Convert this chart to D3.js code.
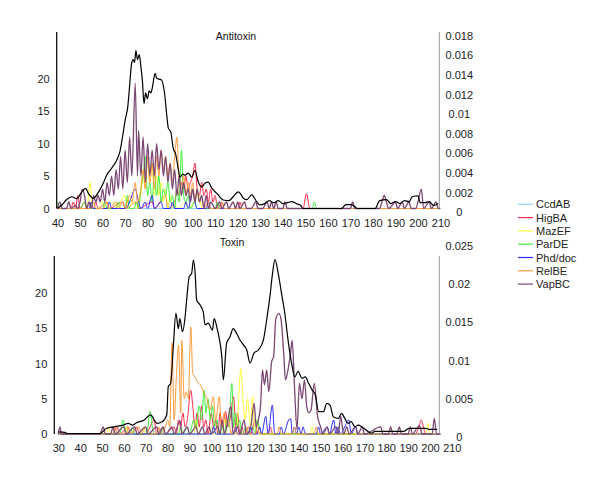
<!DOCTYPE html>
<html><head><meta charset="utf-8">
<script src="https://cdn.jsdelivr.net/npm/d3@7"></script>
<style>body{margin:0;background:#fff}svg{display:block}text{font-family:"Liberation Sans",Arial,sans-serif;}</style>
</head><body>
<svg id="c" width="600" height="483"></svg>
<script>
// ---- DATA ----
const families = ["CcdAB","HigBA","MazEF","ParDE","Phd/doc","RelBE","VapBC"];
const familyColors = ["#8fd3f4","#ff2a4a","#ffff3a","#3ef03e","#2a2aff","#ff9a3a","#7b4874"];

// Antitoxin panel: [length, count]
const antiCcdAB = [[40,0],[88,0],[89,1],[90,0],[210,0]];
const antiHigBA = [[40,0],[46,0],[47,1],[48,0],[49,2],[50,0],[52,1],[53,0],[56,0],[57,1],[58,0],[62,1],[63,0],[69,1],[70,0],[75,1],[76,0],[82,1],[83,0],[88,2],[89,0],[92,1],[93,3],[94,2],[95,4],[96,3],[97,5],[98,3],[99,4],[100,5],[101,7],[102,3],[103,2],[104,4],[105,2],[106,3],[107,1],[108,3],[109,1],[110,2],[111,0],[113,1],[114,0],[120,0],[121,1],[122,0],[149,0],[150.5,2.3],[152,0],[210,0]];
const antiMazEF = [[40,0],[53,0],[54.5,4],[55.5,0],[58,0],[60,1],[61,0],[65,1],[66,0],[70,2],[71,0],[74,1],[75,0],[77,2],[78,5],[79,3],[80,8],[81,4],[82,7],[83,2],[84,5],[85,2],[86,4],[87,1],[88,3],[89,0],[90,2],[91,0],[92,1],[93,0],[97,1],[98,0],[103,2],[104,0],[210,0]];
const antiParDE = [[40,1],[41,0],[50,0],[52,1],[53,0],[60,0],[61,1],[62,0],[66,0],[67,1],[68,0],[70,0],[71,2],[72,0],[74,0],[75,1],[76,0],[77,3],[78,5],[79,8],[80,2],[81,4],[82,1],[83,6],[84,2],[85,5],[86,1],[87,3],[88,2],[89,4],[90,1],[91,2],[92,0],[93,3],[94,1],[95,9],[96,2],[97,1],[98,2],[99,0],[101,1],[102,0],[110,0],[111,1],[112,0],[153,0],[154,1],[155,0],[210,0]];
const antiPhd = [[40,0],[54,0],[55,1],[56,0],[62,0],[63,1],[64,0],[70,0],[72,1],[73,2],[74.5,3],[76,1],[77,0],[79,1],[80,0],[82,2],[83,0],[86,1],[87,0],[90,0],[91,1],[92,0],[96,0],[97,1],[98,0],[100,3],[101,1],[102,0],[106,0],[107,1],[108,0],[210,0]];
const antiRelBE = [[40,0],[55,0],[56,1],[57,0],[60,0],[62,1],[63,0],[66,1],[67,0],[69,1],[70,0],[72,2],[73,1],[74.5,4],[75.5,1],[77,3],[78,6],[79,3],[80,8],[81,4],[82,7],[83,3],[84,8],[85,5],[86,9],[87,6],[88,8],[89,5],[90,7],[91,4],[92,8],[93,11],[94,4],[95,3],[96,5],[97,2],[98,4],[99,2],[100,4],[101,1],[102,3],[103,1],[104,2],[105,0],[107,1],[108,0],[112,0],[113,1],[114,0],[210,0]];
const antiVapBC = [[40,0],[41,1],[42,0],[44,0],[45,1],[46,0],[48,0.5],[49,0],[50,1],[51,3],[52,2],[53,0],[54,1],[55,0],[56,2],[57,1],[58,2],[59,1],[60,3],[61,1],[62,4],[63,2],[64,5],[65,2],[66,6],[67,3],[68,8],[69,3],[70,9],[71,4],[72,11],[73,5],[74.5,19.3],[75.5,5],[76,12],[77,5],[78,11],[79,4],[80,10],[81,5],[82,9],[83,5],[84,10],[85,6],[86,9],[87,5],[88,8],[89,4],[90,7],[91,3],[92,6],[93,2],[94,5],[95,2],[96,4],[97,2],[98,3],[99,1],[100,3],[101,1],[102,3],[103,1],[104,2],[105,0],[106,2],[107,0],[108,1],[110,0],[112,1],[113,0],[115,1],[116,0],[118,1],[119,0],[120,1],[121,0],[123,1],[124,0],[126,0],[128,1],[129,0],[131,0],[133,1],[134,0],[135,1],[136,0],[137,1],[138,0],[140,0],[141,1],[142,0],[170,0],[171,1],[172,0],[183,0],[184,1],[185,2],[186,1],[187,0],[190,1],[191,0],[193,1],[194,0],[196,1],[197,0],[199,0],[200,1],[201.5,3],[202.5,0],[205,1],[206,0],[208,1],[209,0],[210,0]];
const antiDensity = [[40,0],[41.9,0.00036],[44,0.0009],[46.3,0.0012],[48.5,0.001],[50.5,0.0016],[52.5,0.00206],[53.7,0.00155],[55.9,0.00104],[58,0.0016],[60.3,0.00257],[61.8,0.0034],[64,0.0041],[65.5,0.0046],[67,0.0053],[67.7,0.0058],[69,0.0075],[70,0.009],[71.2,0.0104],[72,0.0125],[72.9,0.0148],[73.6,0.0152],[74.2,0.0149],[74.8,0.0161],[75.5,0.0152],[76.3,0.0157],[77,0.0145],[77.7,0.013],[78.4,0.0107],[79.1,0.0118],[79.9,0.0112],[80.7,0.012],[81.5,0.0118],[82.3,0.0126],[83.3,0.0138],[84,0.0133],[85,0.0132],[86.2,0.0131],[87,0.0125],[87.7,0.0114],[88.5,0.0095],[89.2,0.0082],[90.3,0.0078],[91.4,0.0061],[92.4,0.0056],[93.4,0.0043],[94.4,0.0032],[95.5,0.0035],[96.6,0.0034],[98,0.0036],[99.6,0.0032],[101,0.0039],[102.5,0.0027],[104,0.0022],[105.5,0.0026],[106.9,0.0027],[108.4,0.0021],[110.7,0.00155],[113.6,0.00087],[116,0.0008],[118,0.0012],[120.2,0.0017],[121.3,0.0015],[122.5,0.00104],[124,0.0009],[126.2,0.0014],[128.4,0.0007],[129.9,0.00036],[132,0.0005],[134,0.0008],[136,0.0006],[138,0.0008],[140,0.0005],[142,0.0006],[144,0.0007],[146,0.0005],[148,0.0003],[149,0],[166,0],[168,0.0004],[170,0.0004],[172,0.0002],[173,0],[181,0],[183,0.0008],[186,0.0009],[188,0.0005],[190,0.0007],[192,0.0005],[194,0.0008],[196,0.0007],[197.5,0.0012],[200,0.0013],[201,0.0006],[203,0.0006],[205,0.0007],[207,0.0003],[209,0.0005]];

// Toxin panel
const toxCcdAB = [[30,0],[100,0],[101,1],[102,0],[210,0]];
const toxHigBA = [[30,0],[55,0],[57,1],[58,0],[62,1],[63,0],[66,1],[67,0],[70,0],[72,1],[73.8,2],[75,0],[78,1],[79,0],[83,1],[84,0],[85,2],[86,1],[87,3],[88,1],[89,2],[90.6,6.2],[91.5,4],[92.5,1],[93.5,3],[94.5,1],[95.5,4],[96.5,1],[97.5,2],[98.5,0],[100,3],[101,1],[102,2],[103,0],[104,3],[105,1],[106.6,3.2],[107.5,1],[108.5,2],[110.2,5.3],[111.2,1],[112,3],[113,0],[114,1],[115,0],[117,1],[118,0],[120,2],[121,0],[122,1],[123,0],[126,0],[127,1],[128,0],[193,0],[195,1],[196,2],[197,1],[198,0],[210,0]];
const toxMazEF = [[30,0],[52,0],[53,1],[54,0],[60,0],[61,1],[62,0],[68,0],[69,1],[70,0],[85,0],[86,1],[87,0],[92,0],[93,2],[94,0],[99,0],[100,1],[101,0],[105,0],[106,2],[107,0],[111,0],[112,2],[113.5,9.3],[114.5,5],[115.5,2],[116.5,5],[118,1],[118.8,5.3],[119.8,1],[121,2],[122,0],[145,0],[146,1],[147,0],[198,0],[199,1.5],[200,0],[210,0]];
const toxParDE = [[30,0],[58,0],[59.7,2],[61,0],[63,0],[64,1],[65,0],[70,0],[71,1],[72,3.2],[73,1],[74,0],[77,0],[78,1],[79,0],[85,0],[86,1],[87,0],[89,1],[90,0],[92,2],[93,1],[94.5,4],[95.5,2],[96.7,6.2],[97.5,3],[98.5,5],[99.5,2],[100.5,4],[101.5,1],[102.5,2],[103.5,0],[105,1],[106,0],[107,2],[108,1],[109.4,7.2],[110.2,1],[111,3],[112,1],[113,2],[114,0],[116,1],[117,0],[119,1],[120,0],[121,2],[122,1],[123,0],[210,0]];
const toxPhd = [[30,0],[100,0],[101,1],[102,0],[110,0],[111,1],[112,0],[117,0],[118,1],[119,0],[121,0],[122,1],[123,0],[124.9,2.5],[126,0],[127.9,4.1],[129,0],[131,0],[132,1],[133,0],[135.4,2],[136.3,2.2],[137,0],[138,1],[139,0],[140,1],[141,0],[142,1],[143,0],[148,0],[149,1],[150,0],[153,1],[154,0],[156,2],[157,0],[158,1],[159,0],[161,1],[162.9,2],[164,0],[166,1],[167,0],[210,0]];
const toxRelBE = [[30,0],[55,0],[56,1],[57,0],[61,0],[62,1],[63,0],[67,1],[68,0],[70,1],[71,0],[75,0],[76,1],[77,0],[79,1],[80,2],[81,1],[82,13],[83,2],[84,8],[85,12.6],[86,3],[86.5,13.3],[87.6,5],[88.5,6],[89.5,5],[90.6,15.2],[91.5,8.6],[92.6,8.1],[94,7.3],[95,7],[96.7,5.8],[98,5],[99.4,3.4],[100.9,5.3],[102,2],[103.7,5.3],[104.5,1],[106,3],[107,1],[108,2],[109,0],[110,1],[112,0],[115,0],[116,1],[117,0],[120,0],[121,1],[122,0],[130,0],[131,1],[132,0],[137,0],[138,1],[139,0],[147,0],[148,1],[149,0],[210,0]];
const toxVapBC = [[30,0],[30.7,1],[31.5,0],[49,0],[50.6,1],[51.5,0],[54,0],[55,1],[56,0],[60,1],[61,0],[65,1],[66,0],[70,1],[71,0],[75,1],[76,0],[78,1],[79,0],[82,1],[83,0],[85.7,1.9],[86.5,0],[89,1],[90,0],[93,1],[94,0],[96,1],[97,0],[99,1],[100,0],[103,1],[104,0],[105,2],[106,0],[107,1],[108.9,3.9],[110,0],[112,1],[113,0],[115,2],[116,0],[118,1],[119.6,4.4],[120.5,1],[121.5,2],[122.5,4],[123.4,9.1],[124.3,7],[125.3,9.1],[126.3,6],[127.6,10.3],[128.5,11],[129.5,16.4],[131,17.1],[132,16],[133.2,11],[133.9,7.7],[135,9],[136.2,11.4],[137,13.3],[138,7],[139.2,0.6],[140.3,7.2],[141.5,5],[142.6,7.7],[143.6,4],[144.6,3],[145.6,3.4],[147.1,7.2],[148.6,2.5],[150,1],[151,0],[153,1],[154,0],[157,1],[158,0],[159.2,2.5],[160.5,0],[162,1],[163,0],[166,1],[167,0],[169,1],[170,0],[177.5,1],[178.5,0],[181,0],[182,1],[183,0],[185,0],[186,1],[187,0],[190,0],[191,1],[192,0],[195.2,1.2],[196.5,0],[201,0],[202,2.2],[203,0],[210,0]];
const toxDensity = [[30,0.0002],[33,0.00015],[34,0],[49,0],[52.1,0.00068],[55.9,0.00089],[59.7,0.0011],[62,0.00133],[64,0.0011],[65.8,0.00141],[69.3,0.00176],[70.8,0.00219],[72.3,0.00242],[73.9,0.00176],[75.1,0.00133],[77.5,0.00154],[79.6,0.00242],[80.3,0.0061],[81.4,0.00655],[82.6,0.0113],[83.8,0.0157],[84.9,0.0137],[85.6,0.015],[86.8,0.0133],[88,0.0152],[88.7,0.0174],[89.9,0.0205],[91,0.0209],[91.8,0.02265],[92.6,0.0209],[93.3,0.0174],[94.8,0.0168],[96.3,0.0159],[97.1,0.0142],[98.6,0.0144],[100.5,0.0135],[101.3,0.015],[102.5,0.0139],[103.5,0.0126],[104.8,0.01],[105.5,0.007],[107,0.0118],[108.5,0.0126],[110,0.0137],[111.5,0.0131],[113.1,0.0122],[114.6,0.0116],[116.2,0.0109],[117.7,0.0092],[119.5,0.0105],[121.5,0.0109],[123.8,0.0122],[125.3,0.0148],[126.8,0.0179],[128,0.0209],[129.1,0.0227],[130.6,0.0209],[132.1,0.0183],[133.6,0.0157],[135.1,0.0122],[136.7,0.0092],[138.2,0.0074],[139.7,0.0081],[141.5,0.0072],[143,0.0074],[144.5,0.00655],[146.1,0.0057],[147.6,0.005],[149.1,0.00285],[151.3,0.00285],[152.8,0.00394],[154.3,0.0037],[155.8,0.0022],[158.1,0.00198],[159.6,0.00264],[161,0.002],[162.6,0.00133],[164,0.00154],[165.7,0.00089],[167.2,0.0011],[169,0.00085],[171.7,0.00026],[173.3,0.00003],[174.8,0.00029],[188.1,0.00029],[190.4,0.00068],[198,0.00068],[199.5,0.00055],[203.3,0.00055]];

const antiXTicks = [40,50,60,70,80,90,100,110,120,130,140,150,160,170,180,190,200,210];
const toxXTicks = [30,40,50,60,70,80,90,100,110,120,130,140,150,160,170,180,190,200,210];
const antiLeftTicks = [0,5,10,15,20];
const toxLeftTicks = [0,5,10,15,20];
const antiRightTicks = [0,0.002,0.004,0.006,0.008,0.01,0.012,0.014,0.016,0.018];
const toxRightTicks = [0,0.005,0.01,0.015,0.02,0.025];

// ---- DRAW ----
const svg = d3.select("#c");
const panels = [
  {title:"Antitoxin", series:[antiCcdAB,antiHigBA,antiMazEF,antiParDE,antiPhd,antiRelBE,antiVapBC], dens:antiDensity,
   xd:[40,210], xr:[57.5,440.5], ly:[0,27.2], lyr:[208.5,32], ry:[0,0.018], ryr:[208.5,32.1],
   xT:antiXTicks, lT:antiLeftTicks, rT:antiRightTicks, axL:56.7, axR:439.3, top:32, bot:208.5, labY:227, tx:236, ty:39.5},
  {title:"Toxin", series:[toxCcdAB,toxHigBA,toxMazEF,toxParDE,toxPhd,toxRelBE,toxVapBC], dens:toxDensity,
   xd:[30,210], xr:[58.3,451.8], ly:[0,25.3], lyr:[434,256], ry:[0,0.025], ryr:[433.5,242],
   xT:toxXTicks, lT:toxLeftTicks, rT:toxRightTicks, axL:54.3, axR:439.3, top:256, bot:434, labY:452, tx:232, ty:246}
];
const fmtR = v => v===0 ? "0" : d3.format("")(+v.toFixed(3));

panels.forEach((p,pi) => {
  const x = d3.scaleLinear().domain(p.xd).range(p.xr);
  const yl = d3.scaleLinear().domain(p.ly).range(p.lyr);
  const yr = d3.scaleLinear().domain(p.ry).range(p.ryr);
  const g = svg.append("g");
  const cid = "clip"+pi;
  svg.append("clipPath").attr("id",cid).append("rect")
     .attr("x",p.axL).attr("y",p.top-5).attr("width",p.axR-p.axL+1).attr("height",p.bot-p.top+7);
  const plot = g.append("g").attr("clip-path",`url(#${cid})`);
  // series lines
  p.series.forEach((s,i) => {
    const line = d3.line().x(d=>x(d[0])).y(d=>yl(d[1])).curve(d3.curveMonotoneX);
    plot.append("path").datum(s).attr("d",line).attr("fill","none")
      .attr("stroke",familyColors[i]).attr("stroke-width", i===6?1.3:1.0).attr("stroke-linejoin","round");
  });
  const dline = d3.line().x(d=>x(d[0])).y(d=>yr(d[1])).curve(d3.curveMonotoneX);
  plot.append("path").datum(p.dens).attr("d",dline).attr("fill","none").attr("stroke","#000").attr("stroke-width",1.2);
  // left axis
  const la = d3.axisLeft(yl).tickValues(p.lT).tickSize(0).tickPadding(7);
  const lg = g.append("g").attr("transform",`translate(${p.axL},0)`).call(la);
  lg.select(".domain").remove();
  g.append("line").attr("x1",p.axL).attr("x2",p.axL).attr("y1",p.top).attr("y2",p.bot).attr("stroke","#000").attr("stroke-width",1.2);
  lg.selectAll("text").attr("font-size",11).attr("fill","#222");
  // right axis
  const ra = d3.axisRight(yr).tickValues(p.rT).tickSize(0).tickPadding(0).tickFormat(fmtR);
  const rg = g.append("g").attr("transform",`translate(${p.axR+20},0)`).call(ra);
  rg.select(".domain").remove();
  rg.selectAll("text").attr("font-size",11).attr("fill","#222").attr("text-anchor","middle").attr("dy","0.65em");
  g.append("line").attr("x1",p.axR).attr("x2",p.axR).attr("y1",p.top).attr("y2",p.bot).attr("stroke","#999").attr("stroke-width",1);
  // bottom axis
  const ba = d3.axisBottom(x).tickValues(p.xT).tickSize(0).tickPadding(0);
  const bg = g.append("g").attr("transform",`translate(0,${p.labY-8})`).call(ba);
  bg.select(".domain").remove();
  bg.selectAll("text").attr("font-size",11).attr("fill","#222");
  // title
  g.append("text").attr("x",p.tx).attr("y",p.ty).attr("text-anchor","middle").attr("font-size",10.5).attr("fill","#111").text(p.title);
});

// legend
const lgd = svg.append("g");
families.forEach((f,i) => {
  const yy = 204.3 + i*13.3;
  lgd.append("line").attr("x1",518).attr("x2",533).attr("y1",yy).attr("y2",yy).attr("stroke",familyColors[i]).attr("stroke-width",1.2);
  lgd.append("text").attr("x",536).attr("y",yy+4).attr("font-size",11).attr("fill","#222").text(f);
});
</script>
</body></html>
